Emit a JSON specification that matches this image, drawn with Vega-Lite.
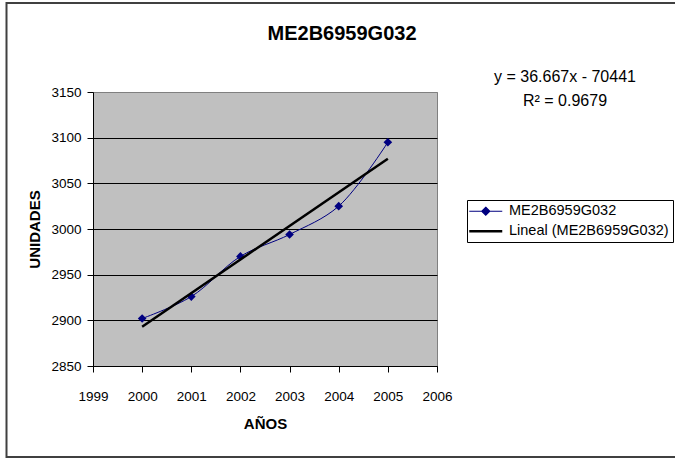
{
  "$schema": "https://vega.github.io/schema/vega-lite/v6.json",
  "width": 344,
  "height": 274,
  "autosize": {"type": "none"},
  "padding": {"left": 93, "top": 92, "right": 238, "bottom": 92},
  "background": "white",
  "title": {
    "text": "ME2B6959G032",
    "font": "Liberation Sans",
    "fontSize": 20,
    "fontWeight": "bold",
    "color": "black",
    "anchor": "middle",
    "frame": "group",
    "dx": 77,
    "baseline": "alphabetic",
    "offset": -58
  },
  "data": {
    "values": [
      {"year": 2000, "value": 2902, "series": "ME2B6959G032"},
      {"year": 2001, "value": 2926, "series": "ME2B6959G032"},
      {"year": 2002, "value": 2970, "series": "ME2B6959G032"},
      {"year": 2003, "value": 2994, "series": "ME2B6959G032"},
      {"year": 2004, "value": 3025, "series": "ME2B6959G032"},
      {"year": 2005, "value": 3095, "series": "ME2B6959G032"},
      {"year": 2000, "value": 2893, "series": "Lineal (ME2B6959G032)"},
      {"year": 2005, "value": 3077, "series": "Lineal (ME2B6959G032)"}
    ]
  },
  "encoding": {
    "x": {
      "field": "year",
      "type": "quantitative",
      "scale": {"domain": [1999, 2006], "nice": false, "zero": false},
      "axis": {
        "title": "AÑOS",
        "values": [1999, 2000, 2001, 2002, 2003, 2004, 2005, 2006],
        "format": "d",
        "grid": false,
        "tickSize": 6,
        "labelPadding": 17,
        "labelFlush": false,
        "labelOverlap": false,
        "titleX": 172,
        "titleY": 57,
        "titleBaseline": "middle"
      }
    },
    "y": {
      "field": "value",
      "type": "quantitative",
      "scale": {"domain": [2850, 3150], "nice": false, "zero": false},
      "axis": {
        "title": "UNIDADES",
        "values": [2850, 2900, 2950, 3000, 3050, 3100, 3150],
        "format": "d",
        "grid": true,
        "gridColor": {"condition": {"test": "datum.value == 3150", "value": "#808080"}, "value": "#000000"},
        "gridWidth": 1,
        "tickSize": 6,
        "labelPadding": 6,
        "labelFlush": false,
        "labelOverlap": false,
        "titleX": -59,
        "titleY": 137,
        "titleBaseline": "middle",
        "titleAngle": -90
      }
    },
    "color": {
      "field": "series",
      "type": "nominal",
      "scale": {
        "domain": ["ME2B6959G032", "Lineal (ME2B6959G032)"],
        "range": ["#000080", "#000000"]
      },
      "legend": {
        "title": null,
        "orient": "none",
        "legendX": 374,
        "legendY": 108,
        "strokeColor": "#000000",
        "fillColor": "#ffffff",
        "padding": 4,
        "symbolType": "M-1.65,0H1.65",
        "symbolSize": 400,
        "symbolOffset": 7.5,
        "labelOffset": 16,
        "labelFont": "Liberation Sans",
        "labelFontSize": 14.5,
        "labelColor": "#000000",
        "rowPadding": 5,
        "labelLimit": 300,
        "cornerRadius": 0,
        "encode": {
          "symbols": {
            "update": {
              "shape": {"signal": "datum.value === 'ME2B6959G032' ? 'M-1.65,0H1.65M0,-0.4L0.4,0L0,0.4L-0.4,0Z' : 'M-1.65,0H1.65'"},
              "fill": {"signal": "datum.value === 'ME2B6959G032' ? '#000080' : 'transparent'"},
              "stroke": {"signal": "datum.value === 'ME2B6959G032' ? '#000080' : '#000000'"},
              "strokeWidth": {"signal": "datum.value === 'ME2B6959G032' ? 1.2 : 2.5"},
              "opacity": {"value": 1}
            }
          }
        }
      }
    }
  },
  "layer": [
    {
      "data": {"values": [{"frame": 1}]},
      "mark": {"type": "rect", "fill": null, "stroke": "#404040", "strokeWidth": 2, "clip": false},
      "encoding": {
        "x": {"value": -86.5},
        "x2": {"value": 600},
        "y": {"value": -89},
        "y2": {"value": 365},
        "color": {"value": null}
      }
    },
    {
      "transform": [{"filter": "datum.series === 'ME2B6959G032'"}],
      "mark": {"type": "line", "interpolate": "catmull-rom", "strokeWidth": 1}
    },
    {
      "transform": [{"filter": "datum.series === 'ME2B6959G032'"}],
      "mark": {"type": "point", "shape": "diamond", "filled": true, "size": 75, "opacity": 1}
    },
    {
      "transform": [{"filter": "datum.series !== 'ME2B6959G032'"}],
      "mark": {"type": "line", "strokeWidth": 2.5}
    },
    {
      "data": {"values": [{"t": "y = 36.667x - 70441"}]},
      "mark": {"type": "text", "font": "Liberation Sans", "fontSize": 16, "color": "#000000", "align": "center", "baseline": "middle", "clip": false},
      "encoding": {
        "text": {"field": "t"},
        "x": {"value": 472},
        "y": {"value": -15},
        "color": {"value": "#000000"}
      }
    },
    {
      "data": {"values": [{"t": "R² = 0.9679"}]},
      "mark": {"type": "text", "font": "Liberation Sans", "fontSize": 16, "color": "#000000", "align": "center", "baseline": "middle", "clip": false},
      "encoding": {
        "text": {"field": "t"},
        "x": {"value": 472},
        "y": {"value": 9},
        "color": {"value": "#000000"}
      }
    }
  ],
  "config": {
    "view": {"fill": "#c0c0c0", "stroke": "#808080", "strokeWidth": 1},
    "axis": {
      "labelFont": "Liberation Sans",
      "labelFontSize": 13.5,
      "labelColor": "#000000",
      "titleFont": "Liberation Sans",
      "titleFontSize": 15,
      "titleFontWeight": "bold",
      "titleColor": "#000000",
      "domainColor": "#000000",
      "tickColor": "#000000",
      "domainWidth": 1,
      "tickWidth": 1
    }
  }
}
